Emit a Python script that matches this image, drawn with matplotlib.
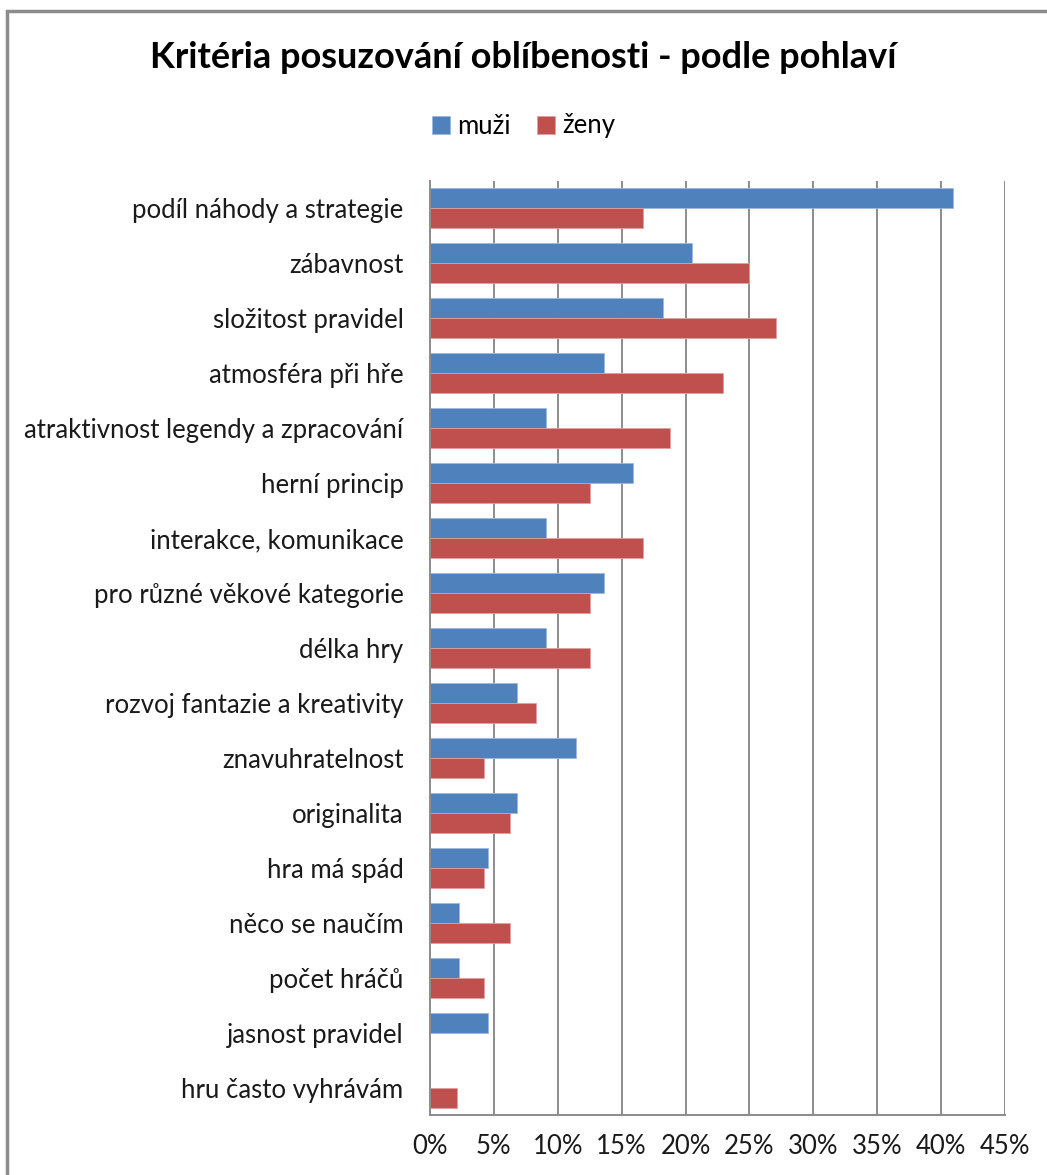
import numpy as np
import matplotlib.pyplot as plt
from matplotlib.patches import Rectangle

plt.rcParams['font.family'] = ['Lato', 'DejaVu Sans']

# categories from top to bottom
categories = [
    "podíl náhody a strategie",
    "zábavnost",
    "složitost pravidel",
    "atmosféra při hře",
    "atraktivnost legendy a zpracování",
    "herní princip",
    "interakce, komunikace",
    "pro různé věkové kategorie",
    "délka hry",
    "rozvoj fantazie a kreativity",
    "znavuhratelnost",
    "originalita",
    "hra má spád",
    "něco se naučím",
    "počet hráčů",
    "jasnost pravidel",
    "hru často vyhrávám",
]
muzi = [40.9, 20.5, 18.2, 13.6, 9.1, 15.9, 9.1, 13.6, 9.1, 6.8, 11.4, 6.8, 4.5, 2.3, 2.3, 4.5, 0.0]
zeny = [16.7, 25.0, 27.1, 22.9, 18.75, 12.5, 16.7, 12.5, 12.5, 8.3, 4.2, 6.25, 4.2, 6.25, 4.2, 0.0, 2.1]
xticks = [0, 5, 10, 15, 20, 25, 30, 35, 40, 45]

blue = "#4F81BD"
red = "#C0504D"
grid_c = "#8C8C8C"

W, H = 1047, 1175
fig = plt.figure(figsize=(W / 100, H / 100), dpi=100)

# outer chart frame
fig.patches.append(Rectangle((7 / W, -0.1), 1.2, 1 - 11 / H + 0.1, transform=fig.transFigure,
                             fill=False, edgecolor="#8C8C8C", linewidth=2.5))

ax = fig.add_axes([430 / W, 1 - 1115 / H, (1005 - 430) / W, (1115 - 181) / H])

n = len(categories)
y = np.arange(n)
h = 0.364
ax.barh(y - h / 2, muzi, height=h, color=blue, label="muži", edgecolor="#9DB9DE", linewidth=0.6)
ax.barh(y + h / 2, zeny, height=h, color=red, label="ženy", edgecolor="#E0A09E", linewidth=0.6)

ax.set_ylim(n - 0.5, -0.5)
ax.set_xlim(0, 45)
ax.set_xticks(xticks)
ax.set_xticklabels([f"{t}%" for t in xticks], fontsize=18.5, color="#1a1a1a")
ax.set_yticks(y)
ax.set_yticklabels(categories, fontsize=18.5, color="#1a1a1a")
ax.tick_params(axis="y", length=0, pad=19)
ax.tick_params(axis="x", length=0, pad=14)

ax.grid(axis="x", color=grid_c, linewidth=1.4)
ax.set_axisbelow(True)
for s in ["top", "right"]:
    ax.spines[s].set_visible(False)
ax.spines["left"].set_color(grid_c)
ax.spines["bottom"].set_color(grid_c)
ax.spines["left"].set_linewidth(1.4)
ax.spines["bottom"].set_linewidth(1.4)

fig.text(0.5, 1 - 58 / H, "Kritéria posuzování oblíbenosti - podle pohlaví",
         ha="center", va="center", fontsize=26, fontweight="bold")

fig.legend(loc="center", bbox_to_anchor=(0.5, 1 - 126 / H), ncol=2, frameon=False,
           fontsize=18.5, handlelength=0.7, handleheight=0.7, handletextpad=0.3,
           columnspacing=1.0)

fig.savefig("out.png", dpi=100)
